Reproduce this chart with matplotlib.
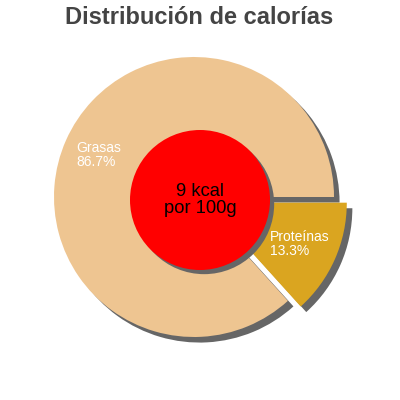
import numpy as np
import matplotlib
matplotlib.use("Agg")
import matplotlib.pyplot as plt
from matplotlib.patches import Circle, Shadow

plt.rcParams['font.family'] = ['Liberation Sans', 'DejaVu Sans']

# datos
labels = ["Proteínas", "Grasas"]
values = [13.3, 86.7]
colors = ["#DAA520", "#EEC591"]
explode = [0.1, 0]
kcal = 9

R = 140
fig = plt.figure(figsize=(4, 4), dpi=100)
ax = fig.add_axes([0, 0, 1, 1])

# explode en matplotlib va en unidades de datos, no en fraccion del radio
wedges, _ = ax.pie(values, colors=colors, explode=[e * R for e in explode],
                   startangle=0, counterclock=False, center=(194, 203),
                   radius=R, wedgeprops=dict(linewidth=0),
                   shadow=dict(ox=4, oy=-4, facecolor="#666666",
                               edgecolor="none", alpha=1))

# circulo central
c = Circle((200, 200), 70, facecolor="#FF0000", edgecolor="none", zorder=5)
ax.add_patch(Shadow(c, 3, -3, facecolor="#666666", edgecolor="none",
                    alpha=1, zorder=4.9))
ax.add_patch(c)
ax.text(200, 200, "%d kcal\npor 100g" % kcal, ha="center", va="center",
        fontsize=13.2, color="black", linespacing=1.06, zorder=6)

# etiquetas
ax.text(76, 400 - 155, "Grasas\n%.1f%%" % values[1], ha="left", va="center",
        fontsize=10, color="white", linespacing=0.95, zorder=6)
ax.text(270, 400 - 244, "Proteínas\n%.1f%%" % values[0], ha="left", va="center",
        fontsize=10, color="white", linespacing=0.95, zorder=6)

ax.text(199, 400 - 18, "Distribución de calorías", ha="center", va="center",
        fontsize=17, fontweight="bold", color="#444444")

ax.set_xlim(0, 400)
ax.set_ylim(0, 400)
ax.axis("off")
plt.savefig("out.png", dpi=100)
